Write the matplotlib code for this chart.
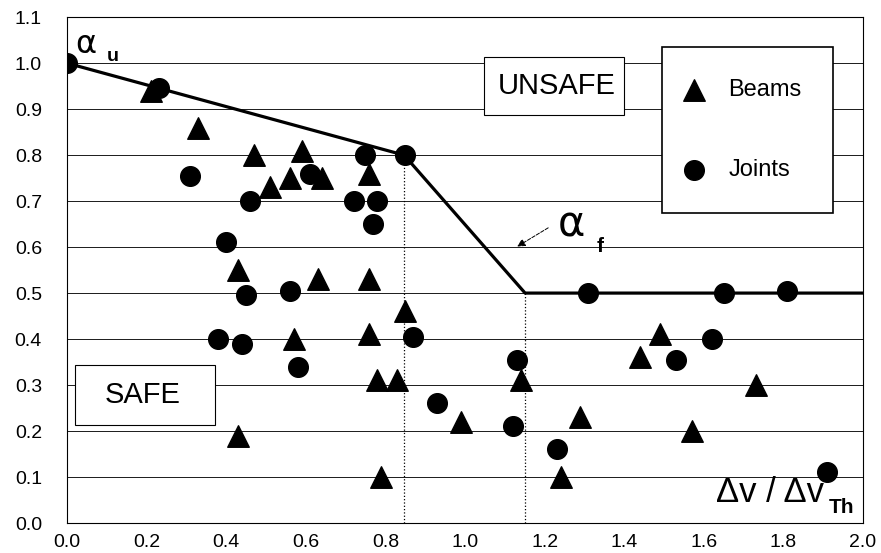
import numpy as np
import matplotlib
matplotlib.use('Agg')
from matplotlib import pyplot as plt
from matplotlib.patches import Rectangle

plt.rcParams['font.family'] = ['Liberation Sans', 'DejaVu Sans']

# beams (triangles)
beam_x = [0.21, 0.33, 0.47, 0.51, 0.56, 0.59, 0.64, 0.76, 0.43, 0.63, 0.76, 0.85, 0.57,
          0.76, 0.78, 0.83, 0.43, 0.79, 0.99, 1.14, 1.24, 1.29, 1.44, 1.49, 1.57, 1.73]
beam_y = [0.94, 0.86, 0.80, 0.73, 0.75, 0.81, 0.75, 0.76, 0.55, 0.53, 0.53, 0.46, 0.40,
          0.41, 0.31, 0.31, 0.19, 0.10, 0.22, 0.31, 0.10, 0.23, 0.36, 0.41, 0.20, 0.30]

# joints (circles)
joint_x = [0.0, 0.23, 0.31, 0.46, 0.40, 0.61, 0.75, 0.85, 0.72, 0.78, 0.77, 0.45, 0.56, 0.38,
           0.44, 0.58, 0.87, 0.93, 1.13, 1.12, 1.23, 1.31, 1.65, 1.81, 1.62, 1.53, 1.91]
joint_y = [1.0, 0.945, 0.755, 0.70, 0.61, 0.76, 0.80, 0.80, 0.70, 0.70, 0.65, 0.495, 0.505, 0.40,
           0.39, 0.34, 0.405, 0.26, 0.355, 0.21, 0.16, 0.50, 0.50, 0.505, 0.40, 0.355, 0.11]

# limit state envelope
env_x = [0.0, 0.847, 1.151, 2.0]
env_y = [1.0, 0.8, 0.5, 0.5]

x_ticks = np.arange(0, 2.01, 0.2)
y_ticks = np.arange(0, 1.11, 0.1)

fig = plt.figure(figsize=(8.81, 5.53), dpi=100)
ax = fig.add_axes([0.076, 0.0542, 0.9036, 0.9148])
ax.set_xlim(0, 2.0)
ax.set_ylim(0, 1.1)

for yv in y_ticks[1:-1]:
    ax.axhline(yv, color='#1a1a1a', lw=0.7, zorder=1)

# vertical guides at the knee points
ax.plot([env_x[1], env_x[1]], [0, env_y[1]], color='black', lw=0.9, ls=':', zorder=1)
ax.plot([env_x[2], env_x[2]], [0, env_y[2]], color='black', lw=0.9, ls=':', zorder=1)

ax.plot(env_x, env_y, color='black', lw=2.3, zorder=2, solid_capstyle='butt')

tri = ax.scatter(beam_x, beam_y, marker='^', s=240, color='black', zorder=3, label='Beams')
circ = ax.scatter(joint_x, joint_y, marker='o', s=200, color='black', zorder=3, label='Joints')

ax.set_xticks(x_ticks)
ax.set_xticklabels(['%.1f' % v for v in x_ticks])
ax.set_yticks(y_ticks)
ax.set_yticklabels(['%.1f' % v for v in y_ticks])
ax.tick_params(length=0, labelsize=14)
ax.tick_params(axis='x', pad=8)
ax.tick_params(axis='y', pad=18)
for s in ax.spines.values():
    s.set_linewidth(0.8)

# region labels
ax.add_patch(Rectangle((1.048, 0.887), 0.352, 0.126, fc='white', ec='black', lw=0.8, zorder=5))
ax.text(1.231, 0.95, 'UNSAFE', fontsize=21, ha='center', va='center', zorder=6)
ax.add_patch(Rectangle((0.02, 0.213), 0.352, 0.130, fc='white', ec='black', lw=0.8, zorder=5))
ax.text(0.19, 0.278, 'SAFE', fontsize=21, ha='center', va='center', zorder=6)

# alpha labels
ax.text(0.02, 1.022, 'α', fontsize=23, family='DejaVu Sans', va='baseline')
ax.text(0.10, 1.005, 'u', fontsize=14, fontweight='bold', va='baseline')
ax.text(1.232, 0.622, 'α', fontsize=30, family='DejaVu Sans', va='baseline')
ax.text(1.33, 0.59, 'f', fontsize=15, fontweight='bold', va='baseline')
ax.annotate('', xy=(1.125, 0.598), xytext=(1.215, 0.645),
            arrowprops=dict(arrowstyle='-|>', color='black', lw=0.7, ls='--', mutation_scale=12))

# axis label in the lower right corner
ax.text(1.63, 0.045, 'Δv / Δv', fontsize=25, va='baseline', zorder=5)
ax.text(1.915, 0.022, 'Th', fontsize=15, fontweight='bold', va='baseline', zorder=5)

leg = ax.legend(handles=[tri, circ], loc='upper left', bbox_to_anchor=(1.495 / 2.0, 1.035 / 1.1),
                fontsize=17, frameon=True, fancybox=False, framealpha=1, edgecolor='black',
                borderpad=1.35, labelspacing=2.45, handletextpad=1.45, borderaxespad=0,
                handlelength=0.0, scatterpoints=1)
leg.get_frame().set_linewidth(1.2)
leg.set_zorder(6)

fig.savefig('out.png', dpi=100)
